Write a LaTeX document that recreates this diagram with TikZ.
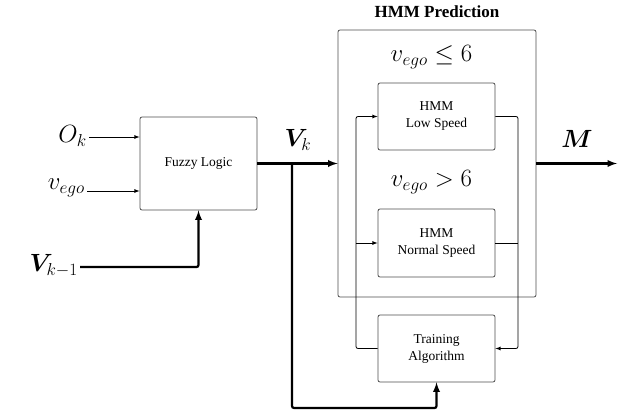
\documentclass[tikz,border=0pt]{standalone}
\usepackage{amsmath,amssymb,bm}
\usepackage{fontspec}
\setmainfont{Liberation Serif}
\usetikzlibrary{calc,shapes,arrows}

\begin{document}
\begin{tikzpicture}[x=1pt,y=-1pt]
	\tikzstyle{block}=[draw=black!70, shape=rectangle, rounded corners = 2pt, minimum width = 117pt, align=center, font=\fontsize{13.5}{17}\selectfont, line width=0.8pt]
	\tikzstyle{signal}=[line width=0.8pt, -latex]
	\tikzstyle{bus}=[line width=2.2pt, -latex]
	\useasboundingbox (0,0) rectangle (636,414);
	% blocks
	\node [block, minimum height = 93pt] (fuzzy) at (198.5,163.5) {Fuzzy Logic};
	\node [block, minimum width = 198pt, minimum height = 267pt] (pred) at (437,163.5) {};
	\node [font=\fontsize{17}{19}\selectfont\bfseries] (title) at (437,12) {HMM Prediction};
	\node [block, minimum height = 67pt] (low) at (436.5,116.5) {HMM\\Low Speed};
	\node [block, minimum height = 68pt] (normal) at (436.5,243) {HMM\\Normal Speed};
	\node [block, minimum height = 67pt] (train) at (436.5,348.5) {Training\\Algorithm};
	\node [font=\fontsize{24}{26}\selectfont] (slow) at (431.5,57) {$v_{ego} \leq 6$};
	\node [font=\fontsize{24}{26}\selectfont] (sfast) at (431.5,182) {$v_{ego} > 6$};
	% signals
	\node [anchor=east, font=\fontsize{24}{26}\selectfont, inner sep=2pt] (ok) at (89,136) {$O_k$};
	\node [anchor=east, font=\fontsize{24}{26}\selectfont, inner sep=2pt] (vego) at (87,188) {$v_{ego}$};
	\node [anchor=east, font=\fontsize{26}{28}\selectfont, inner sep=2pt] (vprev) at (80,266) {$\bm{V}_{k-1}$};
	\node [font=\fontsize{23}{25}\selectfont] (vk) at (298,140) {$\bm{V}_k$};
	\node [font=\fontsize{26}{28}\selectfont] (m) at (577,139) {$\bm{M}$};
	\coordinate (split) at (292,163.5);
	\coordinate (bottom) at (292,408);
	\coordinate (out) at (617,163.5);
	\coordinate (lx) at (356,0);
	\coordinate (rx) at (518,0);
	\draw [signal] (ok.east |- 0,137) -- (fuzzy.west |- 0,137);
	\draw [signal] (vego.east |- 0,191) -- (fuzzy.west |- 0,191);
	\draw [bus, rounded corners=2pt] (vprev.east |- 0,267) -| (fuzzy.south);
	\draw [bus] (fuzzy.east) -- (pred.west);
	\draw [bus, rounded corners=2pt] (split) -- (bottom) -| (train.south);
	\draw [bus] (pred.east) -- (out);
	% training loop
	\draw [signal, rounded corners=2pt] (train.west) -- (train.west -| lx) |- (low.west);
	\draw [signal] (lx |- normal.west) -- (normal.west);
	\draw [signal, rounded corners=2pt] (low.east) -- (low.east -| rx) |- (train.east);
	\draw [line width=0.8pt] (normal.east) -- (normal.east -| rx);
\end{tikzpicture}
\end{document}
